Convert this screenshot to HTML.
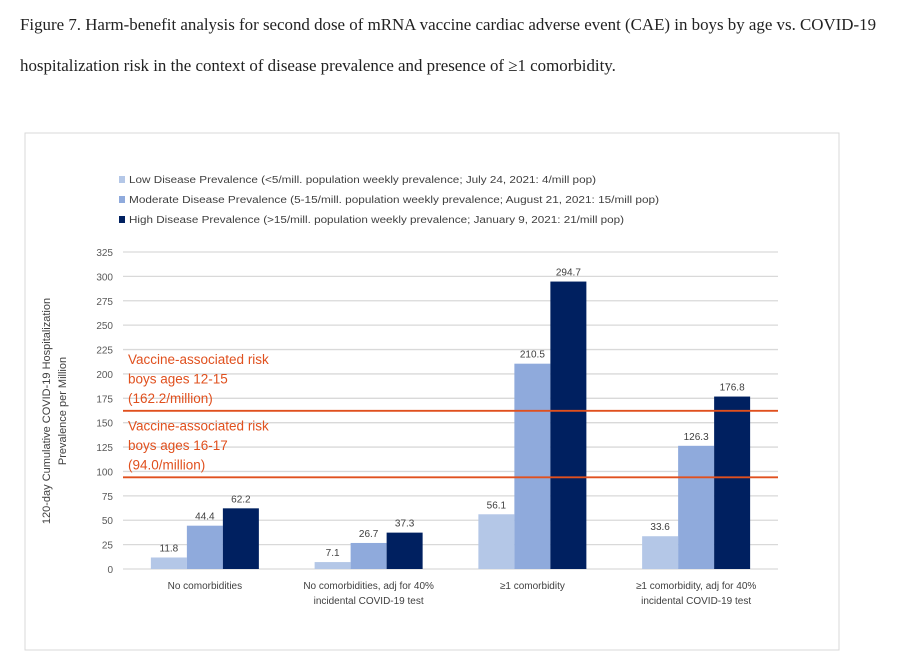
<!DOCTYPE html>
<html><head><meta charset="utf-8"><style>
body{margin:0;background:#fff;width:900px;height:661px;overflow:hidden}
.t{position:absolute;left:20px;font-family:"Liberation Serif",serif;font-size:16.9px;color:#222;white-space:nowrap}
</style></head><body>
<div class="t" style="top:15px">Figure 7. Harm-benefit analysis for second dose of mRNA vaccine cardiac adverse event (CAE) in boys by age vs. COVID-19</div>
<div class="t" style="top:56px">hospitalization risk in the context of disease prevalence and presence of ≥1 comorbidity.</div>
<svg id="chart" width="900" height="661" style="position:absolute;left:0;top:0"></svg>
<script>
const categories=["No comorbidities","No comorbidities, adj for 40%|incidental COVID-19 test","≥1 comorbidity","≥1 comorbidity, adj for 40%|incidental COVID-19 test"];
const lowVals=[11.8,7.1,56.1,33.6];
const modVals=[44.4,26.7,210.5,126.3];
const highVals=[62.2,37.3,294.7,176.8];
const ticks=[0,25,50,75,100,125,150,175,200,225,250,275,300,325];
const refValues=[162.2,94.0];
const refLabels=[["Vaccine-associated risk","boys ages 12-15","(162.2/million)"],["Vaccine-associated risk","boys ages 16-17","(94.0/million)"]];
const legendLabels=["Low Disease Prevalence (<5/mill. population weekly prevalence; July 24, 2021: 4/mill pop)","Moderate Disease Prevalence (5-15/mill. population weekly prevalence; August 21, 2021: 15/mill pop)","High Disease Prevalence (>15/mill. population weekly prevalence; January 9, 2021: 21/mill pop)"];
const legendWidths=[467,530,495];
const colors=["#b4c7e7","#8faadc","#002060"];
const NS="http://www.w3.org/2000/svg";
const svg=document.getElementById('chart');
function el(t,a,p){const e=document.createElementNS(NS,t);for(const k in a)e.setAttribute(k,a[k]);(p||svg).appendChild(e);return e;}
const x0=123,x1=778,y0=569,yTop=252,yMax=325;
const y=v=>y0-(v/yMax)*(y0-yTop);
const gw=(x1-x0)/categories.length;
const xc=i=>x0+gw*(i+0.5);
const F='"Liberation Sans",sans-serif';
let box=el('rect',{x:25,y:133,width:814,height:517,fill:'#fff',stroke:'#d9d9d9'});


ticks.forEach(t=>{
 let g=el('line',{x1:x0,x2:x1,y1:y(t),y2:y(t),stroke:'#d9d9d9','stroke-width':1.3});
 
 
 let l=el('text',{x:x0-10,y:y(t)+4,'text-anchor':'end','font-family':F,'font-size':10,fill:'#595959'});
 l.textContent=t;
 
 
});
let yt=el('text',{transform:'translate(50,411) rotate(-90)','text-anchor':'middle','font-family':F,'font-size':11,fill:'#404040'});
yt.textContent='120-day Cumulative COVID-19 Hospitalization';


let yt2=el('text',{transform:'translate(66,411) rotate(-90)','text-anchor':'middle','font-family':F,'font-size':11,fill:'#404040'});
yt2.textContent='Prevalence per Million';


const series=[lowVals,modVals,highVals];
const bw=36;
series.forEach((vals,s)=>{
 vals.forEach((v,i)=>{
  const bx=xc(i)+(s-1.5)*bw;
  let r=el('rect',{x:bx,y:y(v),width:bw,height:y0-y(v),fill:colors[s]});
  
  
  let tx=el('text',{x:bx+bw/2,y:y(v)-6,'text-anchor':'middle','font-family':F,'font-size':10,fill:'#404040'});
  tx.textContent=v.toFixed(1);
  
  
 });
});
categories.forEach((c,i)=>{
 c.split('|').forEach((ln,k)=>{
  let tx=el('text',{x:xc(i),y:589+k*15,'text-anchor':'middle','font-family':F,'font-size':10,fill:'#404040'});
  tx.textContent=ln;
  
  
 });
});
refValues.forEach((v,j)=>{
 let ln=el('line',{x1:x0,x2:x1,y1:y(v),y2:y(v),stroke:'#e0501e','stroke-width':1.8});
 
 
 refLabels[j].forEach((t,k)=>{
  let tx=el('text',{x:128,y:y(v)-47+k*19.5,'font-family':F,'font-size':13.5,fill:'#e0501e'});
  tx.textContent=t;
  
  
 });
});
legendLabels.forEach((t,i)=>{
 let sq=el('rect',{x:119,y:176+i*20,width:6,height:7,fill:colors[i]});
 
 
 let tx=el('text',{x:129,y:183+i*20,'font-family':F,'font-size':10,fill:'#404040',textLength:legendWidths[i],lengthAdjust:'spacingAndGlyphs'});
 tx.textContent=t;
 
 
});
</script>
</body></html>
